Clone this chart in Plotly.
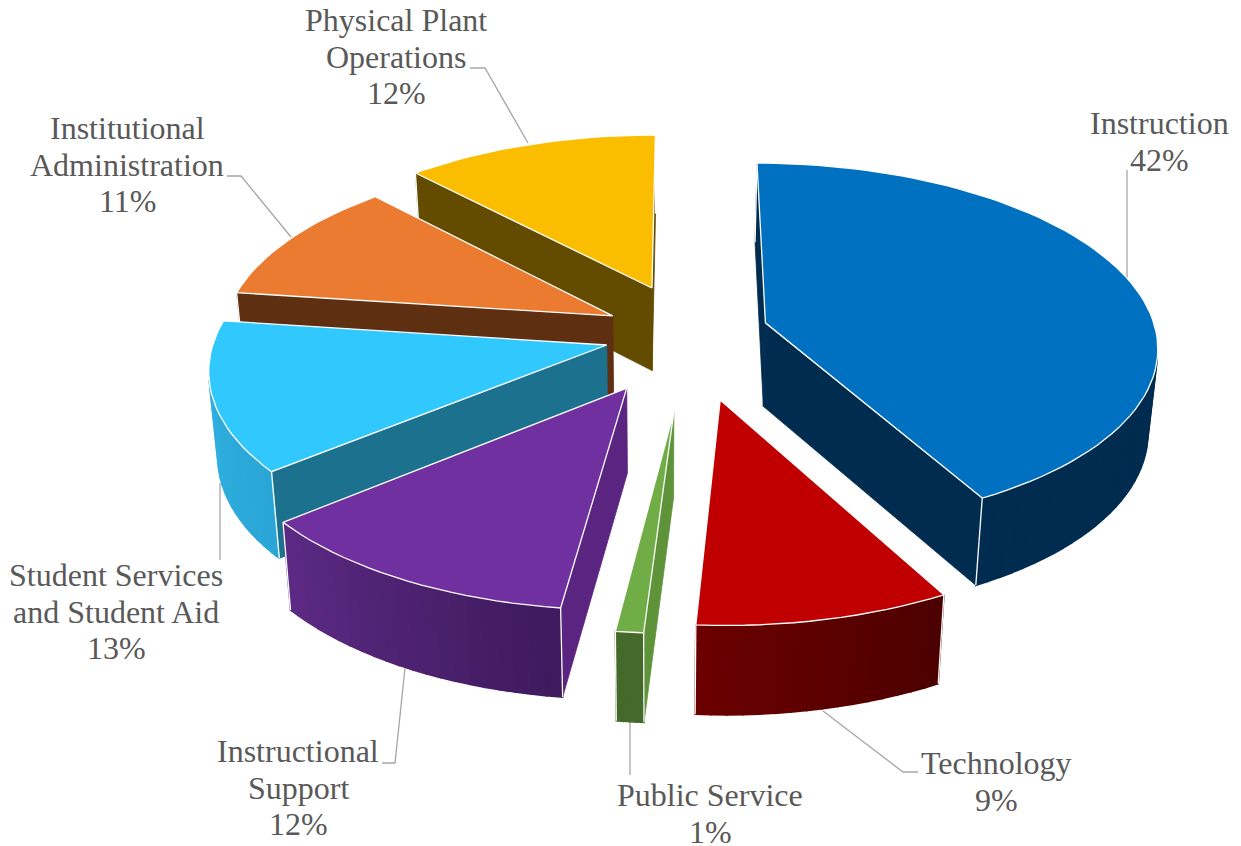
import math
import plotly.graph_objects as go

categories = ["Instruction", "Technology", "Public Service", "Instructional Support",
              "Student Services and Student Aid", "Institutional Administration",
              "Physical Plant Operations"]
label_lines = [["Instruction", "42%"], ["Technology", "9%"], ["Public Service", "1%"],
               ["Instructional", "Support", "12%"], ["Student Services", "and Student Aid", "13%"],
               ["Institutional", "Administration", "11%"], ["Physical Plant", "Operations", "12%"]]
values = [42.05, 8.95, 1.0, 12.0, 13.1, 10.92, 11.98]
top_colors = ["#0070c0", "#c00000", "#70ad47", "#7030a0", "#31c9fd", "#ea7b31", "#fbbd00"]
cut_colors = ["#002c50", "#5c0000", "#5e933a", "#5a2580", "#1c718f", "#5f2f11", "#634b00"]
arc_start = ["#002c50", "#4d0000", "#44692b", "#3f1a5e", "#2aa6d6", "#5f2f11", "#634b00"]
arc_end = ["#002c50", "#6b0000", "#44692b", "#5c2a84", "#2fafe0", "#5f2f11", "#634b00"]
explode_x = [0.22, 0.0985, -0.015, -0.1315, -0.186, -0.174, -0.074]
explode_y = [0.122, -0.2886, -0.349, -0.228, 0.0, 0.161, 0.322]
radius_scale = [1, 1, 0.97, 1, 1, 1, 1]
draw_order = [6, 5, 4, 0, 3, 2, 1]

CX, CY = 680, 345
RX, RY, K = 394, 184, 0.12
DEPTH, SHRINK, VX = 84, 0.98, 660
START = 0.1


def project(x, y, low):
    s = 1 / (1 + K * y)
    px = CX + RX * x * s
    py = CY - RY * y * s
    if low:
        px = VX + (px - VX) * SHRINK
        py += DEPTH * (1 - 0.05 * y)
    return px, py


fig = go.Figure()


def poly(pts, fill, line="white", width=1.3):
    xs = [p[0] for p in pts] + [pts[0][0]]
    ys = [p[1] for p in pts] + [pts[0][1]]
    fig.add_trace(go.Scatter(x=xs, y=ys, mode="lines", fill="toself", fillcolor=fill,
                             line=dict(color=line, width=width), hoverinfo="skip", showlegend=False))


def stroke(pts, color="white", width=1.3):
    fig.add_trace(go.Scatter(x=[p[0] for p in pts], y=[p[1] for p in pts], mode="lines",
                             line=dict(color=color, width=width), hoverinfo="skip", showlegend=False))


def mix(a, b, t):
    ca = [int(a[i:i + 2], 16) for i in (1, 3, 5)]
    cb = [int(b[i:i + 2], 16) for i in (1, 3, 5)]
    return "#%02x%02x%02x" % tuple(round(u + (v - u) * t) for u, v in zip(ca, cb))


def area(p):
    return sum(p[i][0] * p[(i + 1) % len(p)][1] - p[(i + 1) % len(p)][0] * p[i][1] for i in range(len(p))) / 2


# leader lines and label placement (page layout, not data); they pass behind the pie
leaders = [[(1127, 170), (1127, 285)],
           [(823, 711), (903, 772), (918, 772)],
           [(630, 722), (630, 775)],
           [(405, 668), (395, 763), (382, 763)],
           [(220, 483), (220, 560)],
           [(291, 237), (241, 176), (227, 176)],
           [(528, 143), (485, 68), (470, 68)]]
label_pos = [(1159, 123), (996, 763), (710, 795), (298, 751), (116, 575), (127, 128), (396, 20)]
for pts in leaders:
    stroke(pts, "#a6a6a6", 1.3)

total = sum(values)
angles = [START]
for v in values:
    angles.append(angles[-1] + 360 * v / total)

for i in draw_order:
    a0, a1 = angles[i], angles[i + 1]
    ax, ay = explode_x[i], explode_y[i]
    r = radius_scale[i]
    n = max(4, int(a1 - a0) // 2)
    rim = []
    for j in range(n + 1):
        t = math.radians(a0 + (a1 - a0) * j / n)
        rim.append((ax + r * math.sin(t), ay + r * math.cos(t)))
    apex = (ax, ay)

    def quad(p, q):
        return [project(*p, False), project(*q, False), project(*q, True), project(*p, True)]

    # cut faces, culled by their on-screen winding
    q0 = quad(apex, rim[0])
    if area(q0) < 0:
        poly(q0, cut_colors[i], line=cut_colors[i], width=0.8)
    q1 = quad(rim[-1], apex)
    if area(q1) < 0:
        poly(q1, cut_colors[i], line=cut_colors[i], width=0.8)
    # rim strip
    visible = [(rim[j], rim[j + 1]) for j in range(n) if area(quad(rim[j], rim[j + 1])) < 0]
    for k, (p, q) in enumerate(visible):
        c = mix(arc_start[i], arc_end[i], k / max(1, len(visible) - 1))
        poly(quad(p, q), c, line=c, width=1.6)
    # white vertical edges at the rim corners
    if area(q0) < 0 or (visible and visible[0][0] == rim[0]):
        stroke([project(*rim[0], False), project(*rim[0], True)])
    if area(q1) < 0 or (visible and visible[-1][1] == rim[-1]):
        stroke([project(*rim[-1], False), project(*rim[-1], True)])
    poly([project(*apex, False)] + [project(*p, False) for p in rim], top_colors[i])

for lines, (lx, ly) in zip(label_lines, label_pos):
    for j, line in enumerate(lines):
        fig.add_annotation(x=lx, y=ly + j * 36.7, text=line, showarrow=False, xanchor="center", yanchor="middle",
                           font=dict(family="Liberation Serif", size=32, color="#595959"))

fig.update_layout(width=1241, height=846, margin=dict(l=0, r=0, t=0, b=0), paper_bgcolor="white",
                  plot_bgcolor="white", showlegend=False,
                  xaxis=dict(range=[0, 1241], visible=False, fixedrange=True),
                  yaxis=dict(range=[846, 0], visible=False, fixedrange=True))
fig.write_html("out.html", config={"displayModeBar": False},
               post_script="document.body.style.margin='0';document.body.style.overflow='hidden';")
